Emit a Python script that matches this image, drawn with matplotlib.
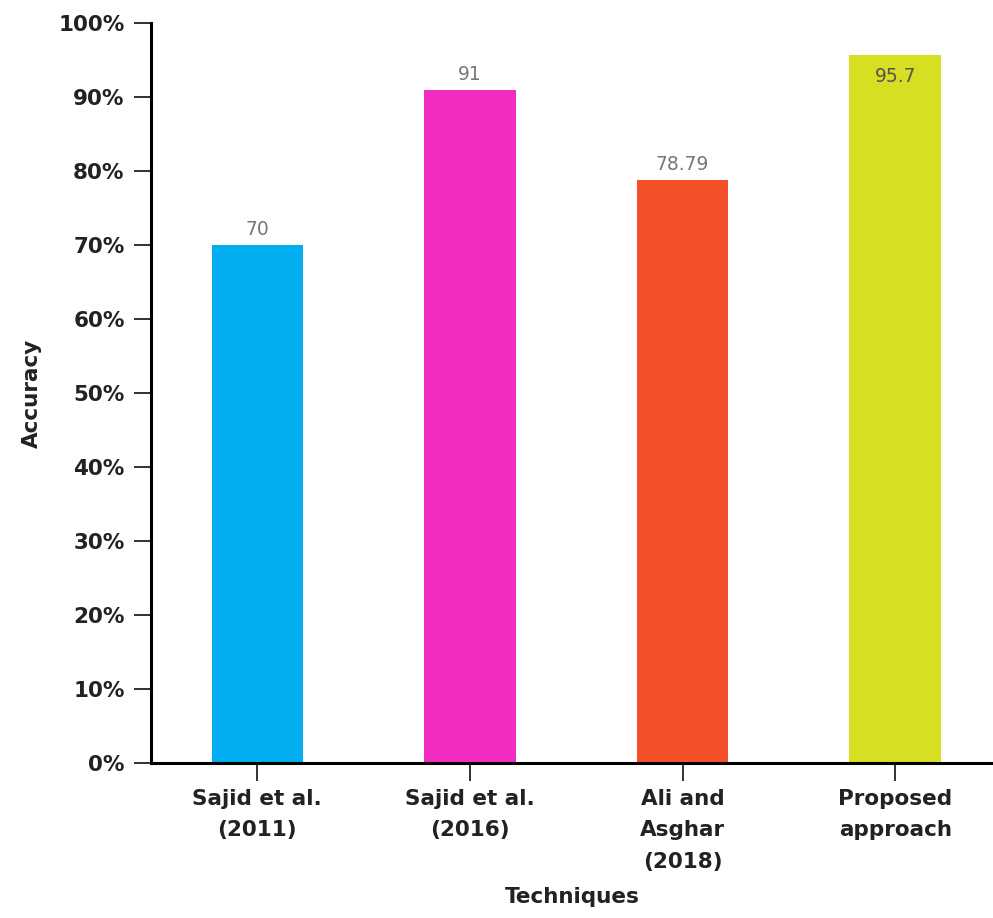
import numpy as np
import matplotlib.pyplot as plt
from matplotlib.ticker import PercentFormatter

# Accuracy of each technique (%)
techniques = ["Sajid et al.\n(2011)", "Sajid et al.\n(2016)", "Ali and\nAsghar\n(2018)", "Proposed\napproach"]
accuracy = [70, 91, 78.79, 95.7]
value_labels = ["70", "91", "78.79", "95.7"]
colors = ["#00AEEF", "#F22CC1", "#F5502A", "#D6DF22"]

plt.rcParams['font.family'] = ['DejaVu Sans']

fig = plt.figure(figsize=(9.93, 9.18), dpi=100)
ax = fig.add_axes([0.152, 0.169, 0.848, 0.806])

x = np.arange(len(techniques))
bars = ax.bar(x, accuracy, width=0.43, color=colors)

for b, lbl in zip(bars, value_labels):
    h = b.get_height()
    if h > 94:
        # no room above the top bar, put its label just inside
        ax.text(b.get_x() + b.get_width() / 2, h - 1.6, lbl, ha='center', va='top',
                fontsize=13.5, color='#555555')
    else:
        ax.text(b.get_x() + b.get_width() / 2, h + 0.8, lbl, ha='center', va='bottom',
                fontsize=13.5, color='#777777')

ax.set_xlim(-0.5, 3.46)
ax.set_ylim(0, 100)
ax.set_yticks(np.arange(0, 101, 10))
ax.yaxis.set_major_formatter(PercentFormatter(decimals=0))
ax.set_xticks(x)
ax.set_xticklabels(techniques, fontsize=15.5, fontweight='bold', color='#222222',
                   linespacing=1.7)
for t in ax.get_yticklabels():
    t.set_fontsize(15.5)
    t.set_fontweight('bold')
    t.set_color('#222222')

ax.spines['top'].set_visible(False)
ax.spines['right'].set_visible(False)
ax.spines['left'].set_linewidth(2.2)
ax.spines['bottom'].set_linewidth(2.2)
ax.tick_params(axis='y', length=12, width=1.3, pad=7, color='#222222')
ax.tick_params(axis='x', length=13, width=1.3, pad=6, color='#222222')

ax.set_ylabel("Accuracy", fontsize=15.5, fontweight='bold', color='#222222', labelpad=12)
ax.set_xlabel("Techniques", fontsize=15.5, fontweight='bold', color='#222222', labelpad=11)

fig.savefig("out.png", dpi=100)
